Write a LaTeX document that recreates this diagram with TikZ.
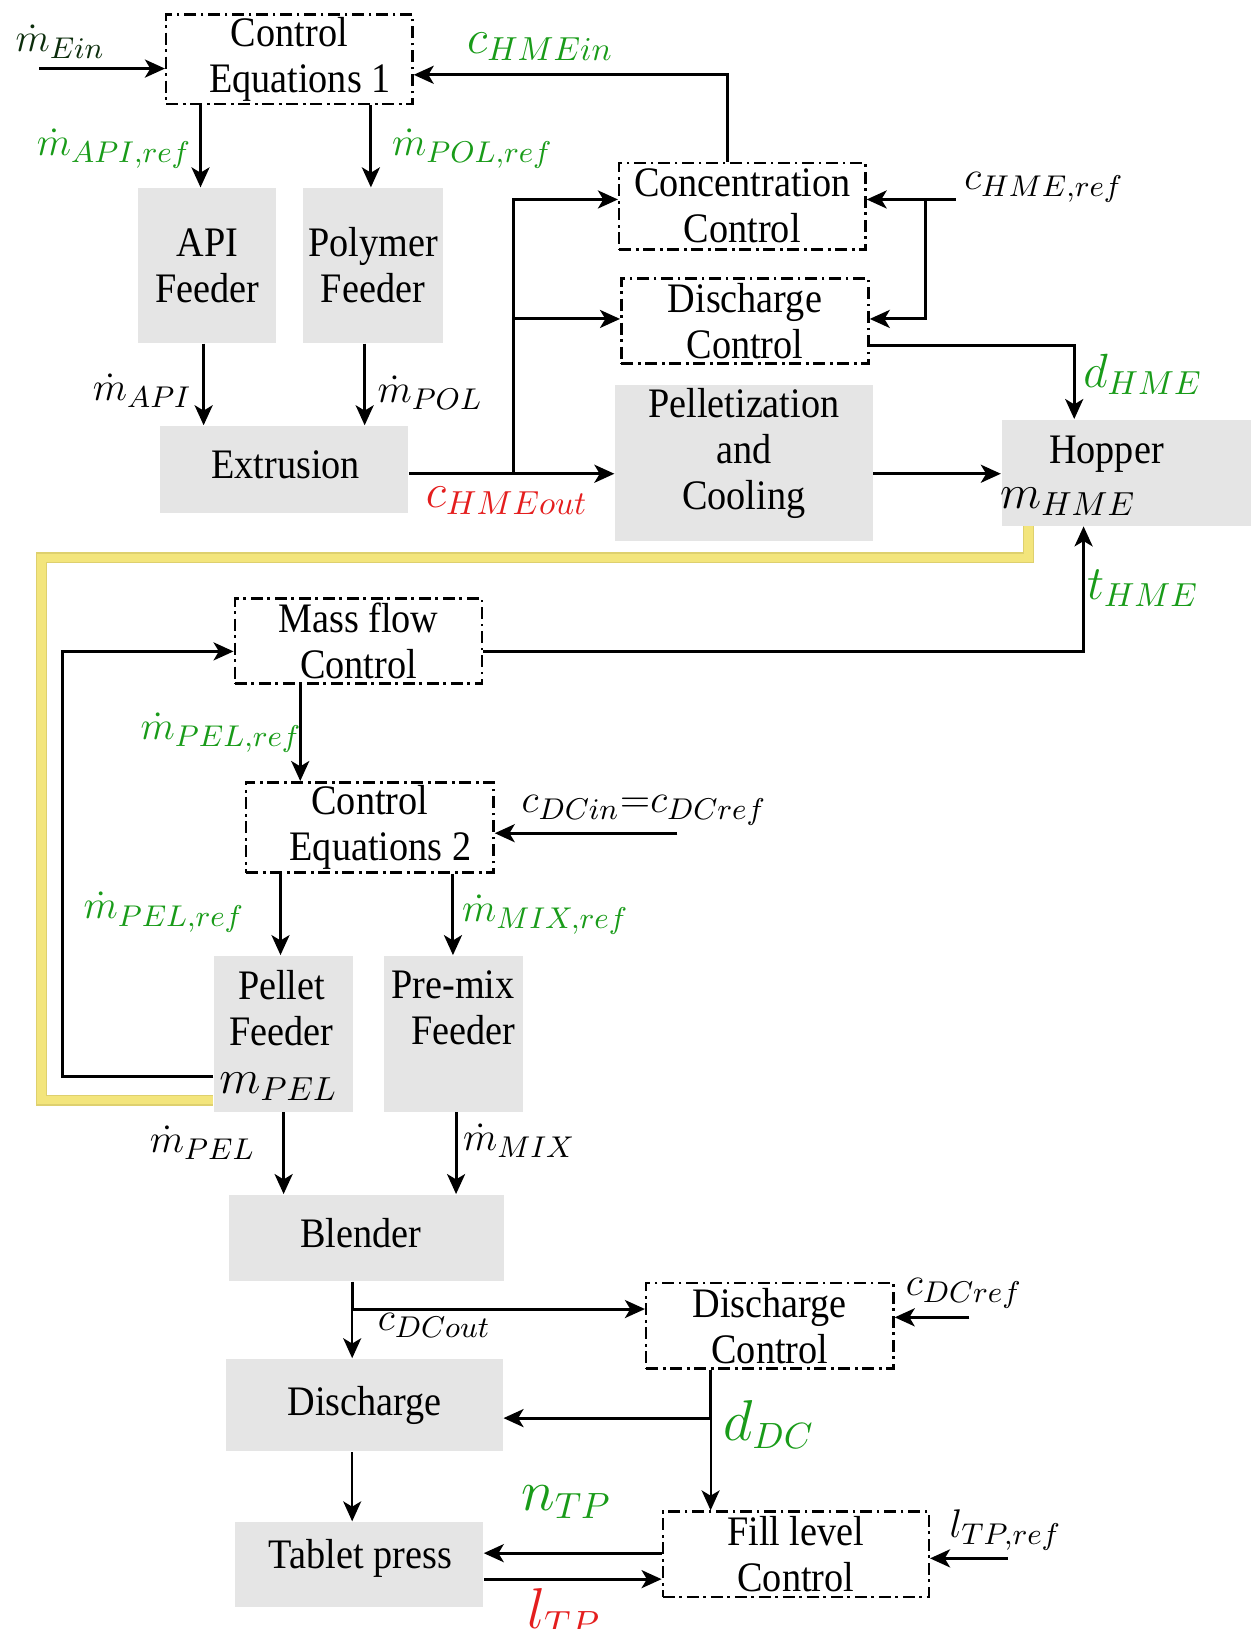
\documentclass[tikz,border=0pt]{standalone}
\usepackage{fontspec}
\setmainfont{Liberation Serif}[FakeStretch=0.91]
\usetikzlibrary{arrows.meta}

\definecolor{boxgray}{RGB}{229,229,229}
\definecolor{sigGreen}{RGB}{25,155,25}
\definecolor{sigRed}{RGB}{228,30,30}
\definecolor{inGreen}{RGB}{12,45,12}
\definecolor{loopYellow}{RGB}{243,229,124}
\definecolor{loopEdge}{RGB}{222,208,110}

\newcommand\boxfont{\fontsize{12.6}{13.8}\selectfont}
\newcommand\sigfont{\fontsize{13}{15}\selectfont}
\newcommand\bigsigfont{\fontsize{16}{18}\selectfont}

\tikzset{
  % box given by its corners (x1,y1) and (x2,y2) in picture units
  spanbox/.style n args={4}{
    minimum width={(#3-#1)*0.3117pt}, minimum height={(#4-#2)*0.3117pt},
    at={({(#1+#3)/2},{(#2+#4)/2})}},
  proc/.style={fill=boxgray, draw=none, inner sep=0pt, align=center, font=\boxfont},
  ctrl/.style={draw, line width=0.75pt,
    dash pattern=on 3.6pt off 1.4pt on 0.8pt off 1.4pt,
    inner sep=0pt, align=center, font=\boxfont},
  flow/.style={-{Stealth[length=6pt,width=5.4pt,inset=1.6pt]}, line width=0.9pt},
  thinflow/.style={flow, line width=0.65pt},
  sig/.style={inner sep=0pt, font=\sigfont},
  bigsig/.style={inner sep=0pt, font=\bigsigfont},
  txt/.style={inner sep=0pt, align=center, font=\boxfont},
}

\begin{document}
\begin{tikzpicture}[x=0.3117pt, y=-0.3117pt]
\useasboundingbox (0,0) rectangle (1204,1568);

% ---------- hot-melt extrusion line ----------
\node[ctrl, spanbox={160}{14}{397}{100}] (ce1) {Control\\ \hspace*{0.5em}Equations 1};
\node[proc, spanbox={133}{181}{266}{330}] (api) {API\\Feeder};
\node[proc, spanbox={292}{181}{426}{330}] (pol) {Polymer\\Feeder};
\node[proc, spanbox={154}{410}{393}{494}] (ext) {};
\node[txt] (exttxt) at (275,447) {Extrusion};
\node[ctrl, spanbox={596}{157}{833}{240}] (cc) {Concentration\\Control};
\node[ctrl, spanbox={598}{268}{836}{350}] (dc1) {Discharge\\Control};
\node[proc, spanbox={592}{371}{840}{521}] (pel) {};
\node[txt] (peltxt) at (716,436) {Pelletization\\and\\Cooling};
\node[proc, spanbox={964}{404}{1204}{506}] (hop) {};
\node[txt] (hoptxt) at (1065,437) {Hopper};
\node[sig, font=\fontsize{14}{16}\selectfont] (mhme) at (1028,483) {$m_{HME}$};

% ---------- pellet feeding and tableting line ----------
\node[ctrl, spanbox={226}{576}{464}{658}] (mfc) {Mass flow\\Control};
\node[ctrl, spanbox={237}{753}{475}{840}] (ce2) {Control\\ \hspace*{0.5em}Equations 2};
\node[proc, spanbox={206}{920}{340}{1070}] (pfd) {};
\node[txt] (pfdtxt) at (271,970) {Pellet\\Feeder};
\node[sig, font=\fontsize{14}{16}\selectfont] (mpel) at (268,1046) {$m_{PEL}$};
\node[proc, spanbox={370}{920}{503}{1070}] (pmx) {};
\node[txt] (pmxtxt) at (436,970) {Pre-mix\\ \hspace*{0.5em}Feeder};
\node[proc, spanbox={220}{1150}{485}{1233}] (bld) {};
\node[txt] (bldtxt) at (347,1187) {Blender};
\node[ctrl, spanbox={622}{1235}{860}{1317}] (dc2) {Discharge\\ Control};
\node[proc, spanbox={218}{1308}{484}{1397}] (dis) {Discharge};
\node[proc, spanbox={226}{1465}{465}{1547}] (tab) {};
\node[txt] (tabtxt) at (347,1500) {Tablet press};
\node[ctrl, spanbox={638}{1455}{894}{1537}] (flc) {Fill level\\ Control};

% ---------- link from hopper to pellet feeder ----------
\draw[loopEdge, line width=3.3pt] (hop.south -| 990,0) |- (40,537) |- (pfd.west |- 0,1059);
\draw[loopYellow, line width=2.5pt] (hop.south -| 990,0) |- (40,537) |- (pfd.west |- 0,1059);

% ---------- connectors, upper part ----------
\coordinate (ein) at (38,66);
\draw[flow] (ein) -- (ce1.west |- ein);
\draw[flow] (cc.north -| 700,0) |- (ce1.east |- 0,72);
\draw[flow] (ce1.south -| 193,0) -- (api.north -| 193,0);
\draw[flow] (ce1.south -| 357,0) -- (pol.north -| 357,0);
\draw[flow] (api.south -| 196,0) -- (ext.north -| 196,0);
\draw[flow] (pol.south -| 351,0) -- (ext.north -| 351,0);
\draw[flow] (ext.east |- 0,456) -- (pel.west |- 0,456);
\coordinate (jx) at (494,456);
\draw[flow] (jx) |- (cc.west |- 0,192);
\draw[flow] (jx |- 0,307) -- (dc1.west |- 0,307);
\coordinate (href) at (920,192);
\draw[flow] (href) -- (cc.east |- href);
\draw[flow] (891,192) |- (dc1.east |- 0,307);
\draw[flow] (dc1.east |- 0,333) -| (hop.north -| 1034,0);
\draw[flow] (pel.east |- 0,456) -- (hop.west |- 0,456);

% ---------- connectors, lower part ----------
\draw[flow] (pfd.west |- 0,1036) -| (60,627) -- (mfc.west |- 0,627);
\draw[flow] (mfc.east |- 0,627) -| (hop.south -| 1043,0);
\draw[flow] (mfc.south -| 289,0) -- (ce2.north -| 289,0);
\coordinate (dcin) at (652,802);
\draw[flow] (dcin) -- (ce2.east |- dcin);
\draw[flow] (ce2.south -| 270,0) -- (pfd.north -| 270,0);
\draw[flow] (ce2.south -| 436,0) -- (pmx.north -| 436,0);
\draw[flow] (pfd.south -| 273,0) -- (bld.north -| 273,0);
\draw[flow] (pmx.south -| 439,0) -- (bld.north -| 439,0);
\draw[thinflow] (bld.south -| 339,0) -- (dis.north -| 339,0);
\draw[flow] (bld.south -| 339,0) |- (dc2.west |- 0,1260);
\coordinate (dcref) at (933,1268);
\draw[flow] (dcref) -- (dc2.east |- dcref);
\draw[thinflow] (dc2.south -| 684,0) -- (flc.north -| 684,0);
\draw[flow] (dc2.south -| 684,0) |- (dis.east |- 0,1365);
\draw[thinflow] (dis.south -| 339,0) -- (tab.north -| 339,0);
\draw[flow] (flc.west |- 0,1495) -- (tab.east |- 0,1495);
\draw[flow] (tab.east |- 0,1520) -- (flc.west |- 0,1520);
\coordinate (tpref) at (970,1500);
\draw[flow] (tpref) -- (flc.east |- tpref);

% ---------- signal labels ----------
\node[sig, text=inGreen] (lein) at (58,40) {$\dot m_{Ein}$};
\node[sig, text=sigGreen, font=\fontsize{14}{16}\selectfont] (lchmein) at (520,45) {$c_{HMEin}$};
\node[sig, text=sigGreen] (lapiref) at (110,143) {$\dot m_{API,ref}$};
\node[sig, text=sigGreen] (lpolref) at (455,143) {$\dot m_{POL,ref}$};
\node[sig] (lapi) at (137,376) {$\dot m_{API}$};
\node[sig] (lpol) at (414,378) {$\dot m_{POL}$};
\node[sig, text=sigRed, font=\fontsize{14}{16}\selectfont] (lchmeout) at (488,482) {$c_{HMEout}$};
\node[sig] (lchmeref) at (1005,180) {$c_{HME,ref}$};
\node[sig, text=sigGreen, font=\fontsize{14.5}{16}\selectfont] (ldhme) at (1100,360) {$d_{HME}$};
\node[sig, text=sigGreen, font=\fontsize{14.5}{16}\selectfont] (lthme) at (1100,566) {$t_{HME}$};
\node[sig, text=sigGreen] (lpelref1) at (213,705) {$\dot m_{PEL,ref}$};
\node[sig] (ldcin) at (620,780) {$c_{DCin}{=}c_{DCref}$};
\node[sig, text=sigGreen] (lpelref2) at (158,878) {$\dot m_{PEL,ref}$};
\node[sig, text=sigGreen] (lmixref) at (525,880) {$\dot m_{MIX,ref}$};
\node[sig] (lpel) at (195,1100) {$\dot m_{PEL}$};
\node[sig] (lmix) at (500,1098) {$\dot m_{MIX}$};
\node[sig] (ldcout) at (418,1276) {$c_{DCout}$};
\node[sig] (ldcref) at (928,1245) {$c_{DCref}$};
\node[bigsig, text=sigGreen] (lddc) at (740,1371) {$d_{DC}$};
\node[bigsig, text=sigGreen] (lntp) at (545,1446) {$n_{TP}$};
\node[bigsig, text=sigRed] (lltp) at (543,1552) {$l_{TP}$};
\node[sig] (lltpref) at (968,1473) {$l_{TP,ref}$};
\end{tikzpicture}
\end{document}
